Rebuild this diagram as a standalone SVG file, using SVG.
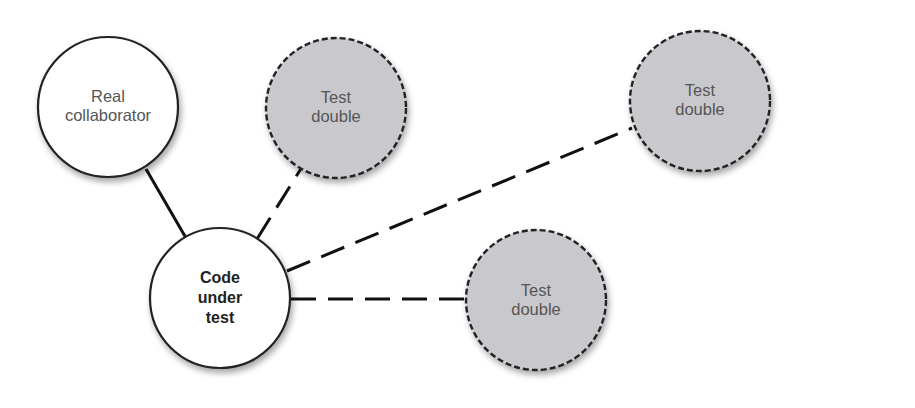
<svg xmlns="http://www.w3.org/2000/svg" width="915" height="408" viewBox="0 0 915 408">
<defs>
<filter id="sh" x="-20%" y="-20%" width="150%" height="150%">
<feDropShadow dx="2" dy="4" stdDeviation="3" flood-color="#000" flood-opacity="0.35"/>
</filter>
<style>
.real{fill:#fff;stroke:#222;stroke-width:2.2;filter:url(#sh)}
.dbl{fill:#c9c9cd;stroke:#222;stroke-width:2.4;stroke-dasharray:6 3;filter:url(#sh)}
.t{font-family:"Liberation Sans",Arial,sans-serif;font-size:16.5px;fill:#555;text-anchor:middle}
.b{font-family:"Liberation Sans",Arial,sans-serif;font-size:16px;font-weight:bold;fill:#222;text-anchor:middle}
.solid{stroke:#111;stroke-width:3;fill:none}
.dash{stroke:#111;stroke-width:3;fill:none;stroke-dasharray:25 12}
</style>
</defs>
<rect width="915" height="408" fill="#fff"/>
<g id="connectors">
<line class="solid" x1="146" y1="169" x2="186" y2="238"/>
<line class="dash" x1="257" y1="239" x2="302" y2="167"/>
<line class="dash" x1="287" y1="271" x2="632" y2="128"/>
<line class="dash" x1="291" y1="299" x2="466" y2="299"/>
</g>
<g id="real-collaborator">
<circle class="real" cx="108" cy="107" r="70"/>
<text class="t" x="108" y="102">Real</text>
<text class="t" x="108" y="121">collaborator</text>
</g>
<g id="test-double-1">
<circle class="dbl" cx="336" cy="108" r="70"/>
<text class="t" x="336" y="103">Test</text>
<text class="t" x="336" y="122">double</text>
</g>
<g id="test-double-2">
<circle class="dbl" cx="700" cy="101" r="70"/>
<text class="t" x="700" y="96">Test</text>
<text class="t" x="700" y="115">double</text>
</g>
<g id="code-under-test">
<circle class="real" cx="220" cy="298" r="70"/>
<text class="b" x="220" y="283">Code</text>
<text class="b" x="220" y="303">under</text>
<text class="b" x="220" y="323">test</text>
</g>
<g id="test-double-3">
<circle class="dbl" cx="536" cy="300" r="70"/>
<text class="t" x="536" y="296">Test</text>
<text class="t" x="536" y="315">double</text>
</g>
</svg>
